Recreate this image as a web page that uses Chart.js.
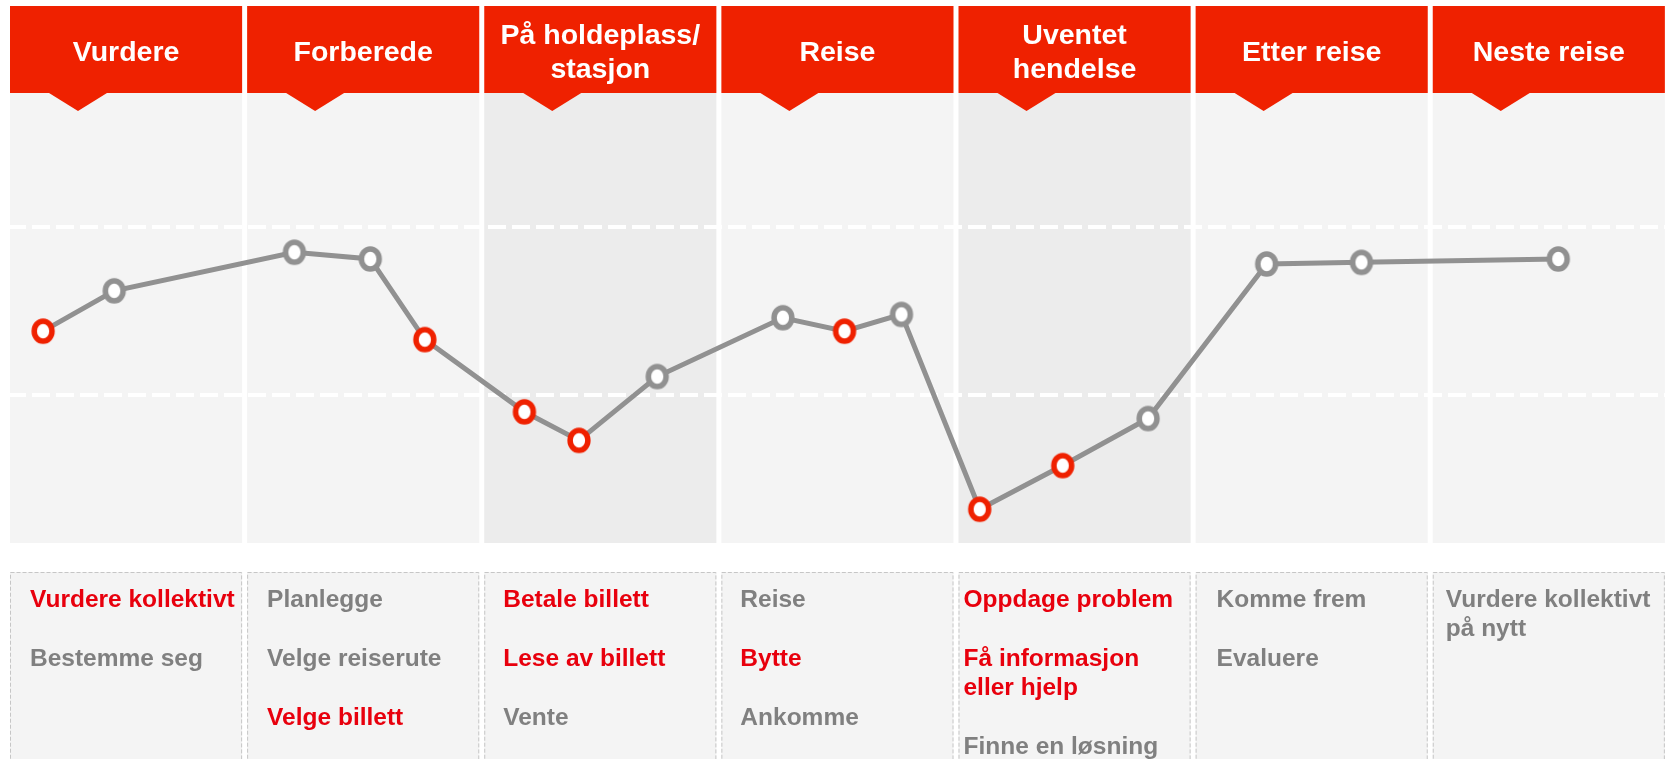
<!DOCTYPE html>
<html>
<head>
<meta charset="utf-8">
<script src="https://cdn.jsdelivr.net/npm/chart.js@4/dist/chart.umd.min.js"></script>
<style>
  html, body { margin: 0; padding: 0; background: #fff; }
  #wrap { width: 1665px; height: 759px; }
</style>
</head>
<body>
<div id="wrap"><canvas id="journey" width="1665" height="759"></canvas></div>
<script>
// phases of the journey (top headers / bottom boxes)
const phaseNames = ['Vurdere', 'Forberede', 'På holdeplass/\nstasjon', 'Reise', 'Uventet\nhendelse', 'Etter reise', 'Neste reise'];
const phaseShaded = [false, false, true, false, true, false, false];

// steps, one point each
const stepNames = ['Vurdere kollektivt', 'Bestemme seg', 'Planlegge', 'Velge reiserute', 'Velge billett',
  'Betale billett', 'Lese av billett', 'Vente', 'Reise', 'Bytte', 'Ankomme', 'Oppdage problem',
  'Få informasjon\neller hjelp', 'Finne en løsning', 'Komme frem', 'Evaluere', 'Vurdere kollektivt\npå nytt'];
const stepPhase = [0, 0, 1, 1, 1, 2, 2, 2, 3, 3, 3, 4, 4, 4, 5, 5, 6];
const stepCritical = [1, 0, 0, 0, 1, 1, 1, 0, 0, 1, 0, 1, 1, 0, 0, 0, 0];
const stepPosition = [0.15, 0.45, 1.21, 1.53, 1.76, 2.18, 2.41, 2.74, 3.27, 3.53, 3.77, 4.10, 4.45, 4.81, 5.31, 5.71, 6.54];
const stepScore = [0.38, 0.62, 0.85, 0.81, 0.33, -0.10, -0.27, 0.11, 0.46, 0.38, 0.48, -0.68, -0.42, -0.14, 0.78, 0.79, 0.81];
const scoreLines = [0, 1];

const RED = '#ef2100';
const TEXT_RED = '#e8000d';
const GREY = '#919191';
const TEXT_GREY = '#808080';
const FONT = '"Liberation Sans", Arial, sans-serif';

// oval markers like in the original slide
function makeMarker(color) {
  const c = document.createElement('canvas');
  c.width = 28; c.height = 30;
  const g = c.getContext('2d');
  g.beginPath();
  g.ellipse(14, 15, 8.9, 10.0, 0, 0, Math.PI * 2);
  g.fillStyle = '#fff';
  g.fill();
  g.lineWidth = 5.5;
  g.strokeStyle = color;
  g.stroke();
  return c;
}
const redMarker = makeMarker(RED);
const greyMarker = makeMarker(GREY);

const journeyLayout = {
  id: 'journeyLayout',
  beforeDraw(chart) {
    const ctx = chart.ctx;
    const x = chart.scales.x;
    const area = chart.chartArea;
    ctx.save();
    ctx.fillStyle = '#fff';
    ctx.fillRect(0, 0, chart.width, chart.height);
    const insets = [20, 20, 19, 19, 5, 21, 13];
    phaseNames.forEach((name, i) => {
      const l = x.getPixelForValue(i) + 2.5;
      const r = x.getPixelForValue(i + 1) - 2.5;
      // column background
      ctx.fillStyle = phaseShaded[i] ? '#ececec' : '#f4f4f4';
      ctx.fillRect(l, area.top, r - l, area.bottom - area.top);
      // header
      ctx.fillStyle = RED;
      ctx.fillRect(l, 6, r - l, area.top - 6);
      ctx.beginPath();
      ctx.moveTo(l + 39, area.top);
      ctx.lineTo(l + 68, area.top + 18);
      ctx.lineTo(l + 97, area.top);
      ctx.closePath();
      ctx.fill();
      ctx.fillStyle = '#fff';
      ctx.font = 'bold 28.5px ' + FONT;
      ctx.textAlign = 'center';
      ctx.textBaseline = 'alphabetic';
      const lines = name.split('\n');
      const mid = (6 + area.top) / 2;
      lines.forEach((t, k) => {
        const base = mid + 11 + (k - (lines.length - 1) / 2) * 34;
        ctx.fillText(t, (l + r) / 2, base);
      });
      // bottom box
      const top = 572;
      ctx.fillStyle = '#f4f4f4';
      ctx.fillRect(l, top, r - l, chart.height - top + 20);
      ctx.strokeStyle = '#c6c6c6';
      ctx.lineWidth = 1;
      ctx.setLineDash([4, 2]);
      ctx.strokeRect(l + 0.5, top + 0.5, r - l - 1, chart.height - top + 20);
      ctx.setLineDash([]);
      ctx.font = 'bold 24.5px ' + FONT;
      ctx.textAlign = 'left';
      let y = 607;
      stepNames.forEach((s, j) => {
        if (stepPhase[j] !== i) return;
        ctx.fillStyle = stepCritical[j] ? TEXT_RED : TEXT_GREY;
        s.split('\n').forEach(t => {
          ctx.fillText(t, l + insets[i], y);
          y += 29;
        });
        y += 30;
      });
    });
    ctx.restore();
  }
};

new Chart(document.getElementById('journey'), {
  type: 'line',
  data: {
    datasets: [{
      data: stepPosition.map((p, i) => ({ x: p, y: stepScore[i] })),
      borderColor: GREY,
      borderWidth: 5,
      tension: 0,
      pointStyle: stepCritical.map(c => c ? redMarker : greyMarker),
      pointRadius: 12,
      pointHoverRadius: 12
    }]
  },
  options: {
    responsive: false,
    animation: false,
    events: [],
    layout: { autoPadding: false, padding: { left: 7.5, right: 0, top: 93, bottom: 216 } },
    plugins: { legend: { display: false }, tooltip: { enabled: false } },
    scales: {
      x: {
        type: 'linear',
        min: 0,
        max: 6.99, // last column runs off the right edge
        display: false
      },
      y: {
        min: -0.881,
        max: 1.798,
        afterBuildTicks: axis => { axis.ticks = scoreLines.map(v => ({ value: v })); },
        ticks: { display: false },
        border: { display: false, dash: [18, 6] },
        grid: { color: '#ffffff', lineWidth: 4, drawTicks: false }
      }
    }
  },
  plugins: [journeyLayout]
});
</script>
</body>
</html>
